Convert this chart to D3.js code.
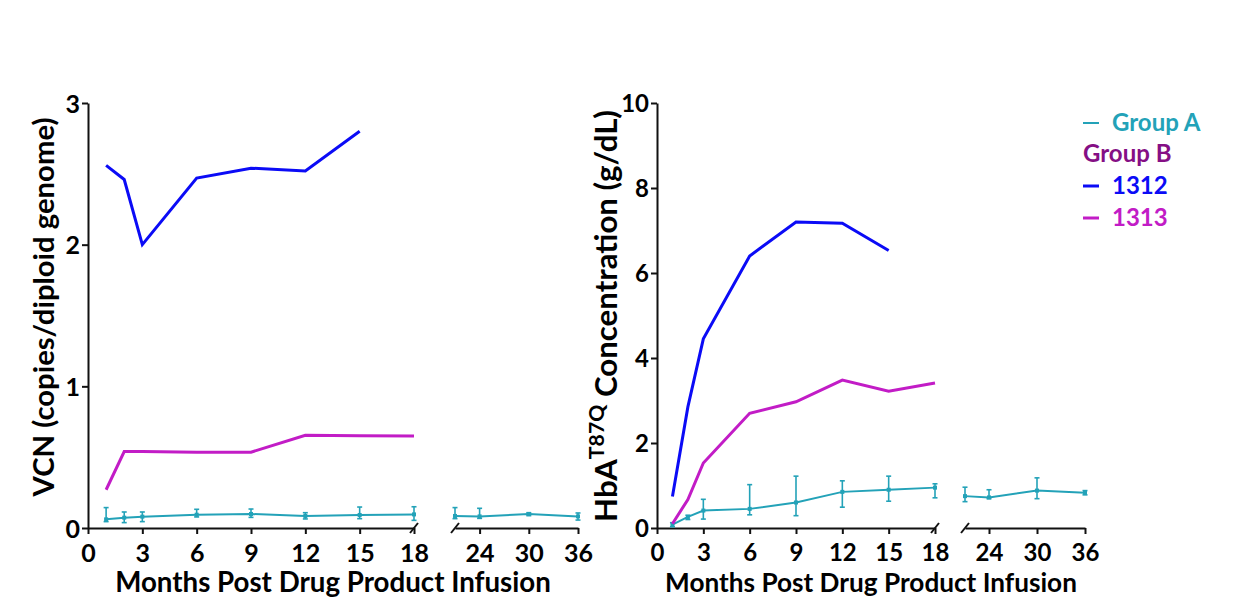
<!DOCTYPE html>
<html><head><meta charset="utf-8">
<script src="https://cdn.jsdelivr.net/npm/d3@7"></script>
<style>body{margin:0;background:#fff}</style>
</head><body>
<svg id="c" width="1258" height="600"></svg>
<script>
// ---------- data ----------
const monthsA = [1,2,3,6,9,12,15,18,21,24,30,36];
const vcnA    = [0.061,0.073,0.080,0.094,0.099,0.085,0.092,0.096,0.085,0.082,0.099,0.082];
const vcnAHi  = [0.144,0.113,0.113,0.132,0.134,0.108,0.148,0.150,0.144,0.139,0.108,0.106];
const vcnALo  = [0.045,0.038,0.045,0.078,0.075,0.064,0.066,0.054,0.066,0.068,0.087,0.056];
const months1312 = [1,2,3,6,9,12,15];
const vcn1312 = [2.56,2.46,2.00,2.47,2.54,2.52,2.80];
const months1313 = [1,2,3,6,9,12,15,18];
const vcn1313 = [0.27,0.54,0.54,0.535,0.535,0.655,0.652,0.65];
const hbaA    = [0.08,0.26,0.41,0.45,0.60,0.85,0.90,0.95,0.75,0.72,0.88,0.83];
const hbaAHi  = [0.125,0.30,0.675,1.02,1.22,1.11,1.22,1.04,0.96,0.90,1.18,0.88];
const hbaALo  = [0.03,0.20,0.21,0.31,0.29,0.49,0.63,0.71,0.62,0.69,0.69,0.78];
const hba1312 = [0.74,2.85,4.45,6.40,7.20,7.17,6.53];
const hba1313 = [0.10,0.67,1.53,2.70,2.97,3.48,3.22,3.41];
const xTicks1 = [0,3,6,9,12,15,18];
const xTicks2 = [24,30,36];
const vcnTicks = [0,1,2,3];
const hbaTicks = [0,2,4,6,8,10];
const legendItems = ["Group A","Group B","1312","1313"];

const C_A = "#23a2b8", C_B = "#850f85", C_1312 = "#0b0bf6", C_1313 = "#c21cc6";
const FONT = "Lato, 'Open Sans', sans-serif";

const svg = d3.select("#c");

function fit(sel, target){
  const fs = parseFloat(sel.attr("font-size"));
  const len = sel.node().getComputedTextLength();
  if (len > 0) sel.attr("font-size", fs * target / len);
}

function panel(opt){
  const g = svg.append("g");
  const y = d3.scaleLinear().domain(opt.yDomain).range([528,103]);
  const x1 = d3.scaleLinear().domain([0,18]).range([opt.x0, opt.x18]);
  const x2 = d3.scaleLinear().domain([21,36]).range([opt.x21, opt.x36]);
  const x = m => m <= 18 ? x1(m) : x2(m);

  const styleAxis = (sel, fs) => {
    sel.attr("font-family", FONT).attr("font-size", fs).attr("font-weight", 700);
    sel.selectAll("path, line").attr("stroke", "#111").attr("stroke-width", 2);
    sel.selectAll("text").attr("fill", "#000");
  };
  const ax1 = g.append("g").attr("transform","translate(0,528)")
    .call(d3.axisBottom(x1).tickValues(xTicks1).tickSize(6).tickSizeOuter(0).tickPadding(10));
  styleAxis(ax1, opt.tickFs);
  const ax2 = g.append("g").attr("transform","translate(0,528)")
    .call(d3.axisBottom(x2).tickValues(xTicks2).tickSize(6).tickSizeOuter(0).tickPadding(10));
  styleAxis(ax2, opt.tickFs);
  const ay = g.append("g").attr("transform",`translate(${opt.x0},0)`)
    .call(d3.axisLeft(y).tickValues(opt.yTicks).tickFormat(d3.format("d"))
      .tickSize(6).tickSizeOuter(0).tickPadding(2));
  styleAxis(ay, opt.tickFs);
  ay.selectAll("text").attr("dy","0.36em");

  // break marks
  [x1(18), x2(21)].forEach(bx => {
    g.append("line").attr("x1", bx-4).attr("y1", 533).attr("x2", bx+4).attr("y2", 523)
      .attr("stroke","#111").attr("stroke-width",2);
  });

  // titles
  const xt = g.append("text").attr("x", opt.xTitleX).attr("y", 592).attr("text-anchor","middle")
    .attr("font-family",FONT).attr("font-weight",700).attr("font-size",26)
    .text("Months Post Drug Product Infusion");
  fit(xt, opt.xTitleLen);
  const yt = g.append("text").attr("transform",`translate(${opt.yTitleX},${opt.yTitleY}) rotate(-90)`)
    .attr("text-anchor","middle").attr("font-family",FONT).attr("font-weight",700)
    .attr("font-size",28);
  opt.yTitle(yt);
  fit(yt, opt.yTitleLen);

  const line = d3.line().x(d => x(d[0])).y(d => y(d[1]));
  const pts = monthsA.map((m,i) => [m, opt.a[i], opt.aHi[i], opt.aLo[i]]);
  [pts.filter(p => p[0] <= 18), pts.filter(p => p[0] >= 21)].forEach(seg => {
    g.append("path").attr("d", line(seg)).attr("fill","none")
      .attr("stroke",C_A).attr("stroke-width",2);
  });
  pts.forEach(p => {
    const px = x(p[0]);
    g.append("line").attr("x1",px).attr("x2",px).attr("y1",y(p[2])).attr("y2",y(p[3]))
      .attr("stroke",C_A).attr("stroke-width",1.6);
    [p[2],p[3]].forEach(v => g.append("line").attr("x1",px-2.5).attr("x2",px+2.5)
      .attr("y1",y(v)).attr("y2",y(v)).attr("stroke",C_A).attr("stroke-width",1.6));
    g.append("rect").attr("x",px-2).attr("y",y(p[1])-2).attr("width",4).attr("height",4).attr("fill",C_A);
  });
  g.append("path").attr("d", line(months1313.map((m,i)=>[m,opt.b13[i]]))).attr("fill","none")
    .attr("stroke",C_1313).attr("stroke-width",3);
  g.append("path").attr("d", line(months1312.map((m,i)=>[m,opt.b12[i]]))).attr("fill","none")
    .attr("stroke",C_1312).attr("stroke-width",3);
}

panel({
  yDomain:[0,3], yTicks:vcnTicks, x0:88, x18:414, x21:455, x36:578,
  tickFs:25, xTitleX:333, xTitleLen:436, yTitleX:54, yTitleY:307, yTitleLen:379,
  yTitle: t => t.text("VCN (copies/diploid genome)"),
  a:vcnA, aHi:vcnAHi, aLo:vcnALo, b12:vcn1312, b13:vcn1313
});
panel({
  yDomain:[0,10], yTicks:hbaTicks, x0:657, x18:935, x21:965, x36:1085,
  tickFs:24, xTitleX:871, xTitleLen:412, yTitleX:617, yTitleY:316, yTitleLen:412,
  yTitle: t => {
    t.append("tspan").text("HbA");
    t.append("tspan").attr("baseline-shift","super").attr("font-size","0.68em").text("T87Q");
    t.append("tspan").text(" Concentration (g/dL)");
  },
  a:hbaA, aHi:hbaAHi, aLo:hbaALo, b12:hba1312, b13:hba1313
});

// legend
const leg = svg.append("g").attr("font-family",FONT).attr("font-weight",700).attr("font-size",24);
const legColors = [C_A, C_B, C_1312, C_1313];
const legY = [123, 154, 186, 218];
legendItems.forEach((name,i) => {
  const hasLine = i !== 1;
  if (hasLine) leg.append("line").attr("x1",1083).attr("x2",1099).attr("y1",legY[i]).attr("y2",legY[i])
    .attr("stroke",legColors[i]).attr("stroke-width", i===0 ? 2 : 3);
  leg.append("text").attr("x", hasLine ? 1112 : 1083).attr("y", legY[i]).attr("dy","0.35em")
    .attr("fill",legColors[i]).text(name);
});
</script>
</body></html>
